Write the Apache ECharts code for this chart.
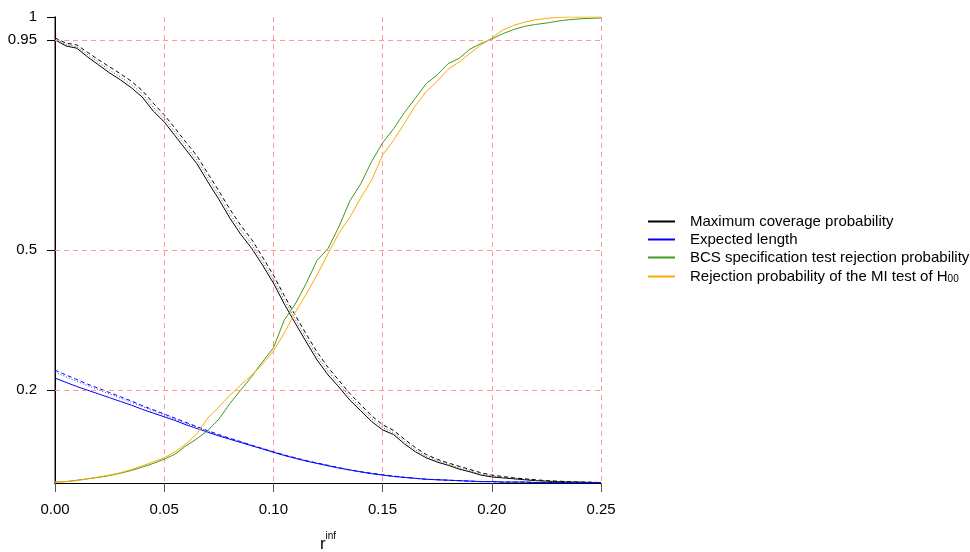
<!DOCTYPE html>
<html>
<head>
<meta charset="utf-8">
<script src="https://cdn.jsdelivr.net/npm/echarts@6/dist/echarts.min.js"></script>
<style>
  html, body { margin: 0; padding: 0; background: #fff; }
  #chart { width: 970px; height: 552px; }
</style>
</head>
<body>
<div id="chart"></div>
<script>
// r^inf grid
var rInf = [0, 0.005, 0.01, 0.015, 0.02, 0.025, 0.03, 0.035, 0.04, 0.045,
  0.05, 0.055, 0.06, 0.065, 0.07, 0.075, 0.08, 0.085, 0.09, 0.095,
  0.1, 0.105, 0.11, 0.115, 0.12, 0.125, 0.13, 0.135, 0.14, 0.145,
  0.15, 0.155, 0.16, 0.165, 0.17, 0.175, 0.18, 0.185, 0.19, 0.195,
  0.2, 0.205, 0.21, 0.215, 0.22, 0.225, 0.23, 0.235, 0.24, 0.245, 0.25];

// maximum coverage probability (three variants)
var coverSolid = [0.951, 0.938, 0.933, 0.914, 0.897, 0.880, 0.865, 0.848, 0.828, 0.798,
  0.775, 0.745, 0.715, 0.685, 0.646, 0.609, 0.569, 0.534, 0.504, 0.468,
  0.429, 0.384, 0.343, 0.303, 0.264, 0.232, 0.206, 0.178, 0.155, 0.132,
  0.114, 0.104, 0.084, 0.067, 0.054, 0.045, 0.038, 0.030, 0.024, 0.017,
  0.013, 0.011, 0.009, 0.007, 0.005, 0.004, 0.003, 0.002, 0.002, 0.001, 0.001];
var coverDotted = [0.953, 0.941, 0.936, 0.919, 0.902, 0.886, 0.871, 0.855, 0.835, 0.806,
  0.782, 0.753, 0.723, 0.693, 0.655, 0.618, 0.578, 0.543, 0.513, 0.476,
  0.437, 0.393, 0.351, 0.311, 0.272, 0.240, 0.213, 0.185, 0.161, 0.138,
  0.119, 0.108, 0.089, 0.071, 0.057, 0.048, 0.040, 0.033, 0.026, 0.019,
  0.015, 0.012, 0.010, 0.008, 0.006, 0.004, 0.003, 0.002, 0.002, 0.001, 0.001];
var coverDashed = [0.955, 0.944, 0.940, 0.924, 0.908, 0.893, 0.878, 0.862, 0.842, 0.815,
  0.790, 0.761, 0.731, 0.702, 0.664, 0.627, 0.588, 0.553, 0.523, 0.485,
  0.446, 0.402, 0.360, 0.320, 0.281, 0.248, 0.220, 0.192, 0.168, 0.144,
  0.125, 0.113, 0.094, 0.076, 0.061, 0.051, 0.043, 0.036, 0.029, 0.022,
  0.017, 0.014, 0.011, 0.009, 0.007, 0.005, 0.004, 0.003, 0.002, 0.002, 0.001];

// expected length (three variants)
var lengthSolid = [0.225, 0.216, 0.207, 0.199, 0.191, 0.183, 0.175, 0.167, 0.158, 0.150,
  0.142, 0.134, 0.125, 0.117, 0.109, 0.101, 0.094, 0.087, 0.080, 0.073,
  0.066, 0.059, 0.053, 0.047, 0.042, 0.037, 0.032, 0.028, 0.024, 0.020,
  0.017, 0.014, 0.012, 0.010, 0.008, 0.007, 0.006, 0.005, 0.004, 0.003,
  0.003, 0.002, 0.002, 0.002, 0.001, 0.001, 0.001, 0.001, 0.001, 0.001, 0.001];
var lengthDotted = [0.238, 0.228, 0.218, 0.209, 0.200, 0.191, 0.182, 0.173, 0.164, 0.155,
  0.146, 0.137, 0.128, 0.120, 0.111, 0.103, 0.095, 0.088, 0.081, 0.074,
  0.067, 0.060, 0.054, 0.048, 0.042, 0.037, 0.032, 0.028, 0.024, 0.020,
  0.017, 0.014, 0.012, 0.010, 0.008, 0.007, 0.006, 0.005, 0.004, 0.003,
  0.003, 0.002, 0.002, 0.002, 0.001, 0.001, 0.001, 0.001, 0.001, 0.001, 0.001];
var lengthDashed = [0.242, 0.232, 0.222, 0.212, 0.203, 0.194, 0.185, 0.176, 0.166, 0.157,
  0.148, 0.139, 0.130, 0.121, 0.112, 0.104, 0.096, 0.089, 0.081, 0.074,
  0.067, 0.060, 0.054, 0.048, 0.043, 0.038, 0.033, 0.028, 0.024, 0.021,
  0.018, 0.015, 0.012, 0.010, 0.008, 0.007, 0.006, 0.005, 0.004, 0.003,
  0.003, 0.002, 0.002, 0.002, 0.001, 0.001, 0.001, 0.001, 0.001, 0.001, 0.001];

// BCS specification test rejection probability
var bcsReject = [0.002, 0.003, 0.006, 0.009, 0.012, 0.016, 0.021, 0.027, 0.034, 0.042,
  0.051, 0.062, 0.080, 0.095, 0.113, 0.137, 0.170, 0.199, 0.228, 0.260,
  0.290, 0.350, 0.384, 0.428, 0.478, 0.503, 0.550, 0.605, 0.642, 0.690,
  0.730, 0.760, 0.795, 0.826, 0.857, 0.876, 0.900, 0.911, 0.931, 0.943,
  0.953, 0.964, 0.973, 0.980, 0.984, 0.987, 0.991, 0.994, 0.996, 0.997, 0.998];

// rejection probability of the MI test of H00
var miReject = [0.002, 0.003, 0.005, 0.009, 0.013, 0.017, 0.022, 0.029, 0.037, 0.045,
  0.054, 0.067, 0.084, 0.106, 0.140, 0.163, 0.188, 0.210, 0.231, 0.255,
  0.283, 0.322, 0.366, 0.405, 0.447, 0.492, 0.536, 0.570, 0.612, 0.650,
  0.704, 0.735, 0.772, 0.810, 0.840, 0.862, 0.888, 0.903, 0.922, 0.940,
  0.955, 0.972, 0.982, 0.989, 0.994, 0.997, 0.999, 1.000, 1.000, 1.000, 1.000];

var yTicks = [0.2, 0.5, 0.95, 1];
var yGrid = [0.2, 0.5, 0.95];

var legendNames = [
  "Maximum coverage probability",
  "Expected length",
  "BCS specification test rejection probability",
  "Rejection probability of the MI test of H00"
];

var gridRed = "#ff9a9a";

function pairs(ys) {
  return rInf.map(function (x, i) { return [x, ys[i]]; });
}

function lineSeries(name, ys, color, type) {
  return {
    name: name,
    type: "line",
    data: pairs(ys),
    showSymbol: false,
    symbol: "none",
    animation: false,
    lineStyle: { color: color, width: 1, type: type || "solid" },
    itemStyle: { color: color },
    z: 3
  };
}

var chart = echarts.init(document.getElementById("chart"));

var series = [
  // horizontal grid lines at the y ticks
  {
    name: "hgrid",
    type: "line",
    data: [],
    silent: true,
    itemStyle: { color: gridRed },
    lineStyle: { color: gridRed },
    z: 1,
    markLine: {
      silent: true,
      symbol: "none",
      animation: false,
      label: { show: false },
      lineStyle: { color: gridRed, type: [5, 4], width: 1, opacity: 1 },
      emphasis: { disabled: true },
      data: yGrid.map(function (v) {
        return { yAxis: v, lineStyle: { color: gridRed, type: [5, 4], width: 1 } };
      })
    }
  },
  lineSeries(legendNames[0], coverSolid, "#000000"),
  lineSeries("cover dotted", coverDotted, "#555555", [1, 2]),
  lineSeries("cover dashed", coverDashed, "#000000", [4, 3]),
  lineSeries(legendNames[1], lengthSolid, "#0000ff"),
  lineSeries("length dotted", lengthDotted, "#3333ff", [1, 2]),
  lineSeries("length dashed", lengthDashed, "#0000ff", [4, 3]),
  lineSeries(legendNames[2], bcsReject, "#3f9a1e"),
  lineSeries(legendNames[3], miReject, "#ffaa00")
];

chart.setOption({
  animation: false,
  backgroundColor: "#ffffff",
  textStyle: { fontFamily: "Liberation Sans, Arial, sans-serif" },
  grid: { left: 55, right: 369, top: 17, bottom: 69, outerBoundsMode: "none", containLabel: false },
  legend: {
    orient: "vertical",
    left: 643,
    top: 209,
    itemWidth: 27,
    itemHeight: 2,
    itemGap: 3,
    icon: "rect",
    data: legendNames,
    textStyle: {
      fontSize: 15,
      color: "#000",
      lineHeight: 15,
      padding: [0, 0, 0, 10],
      rich: {
        sub: { fontSize: 10, lineHeight: 15, verticalAlign: "bottom", padding: [6, 0, 0, 0] }
      }
    },
    formatter: function (name) {
      if (name === legendNames[3]) return "Rejection probability of the MI test of H{sub|00}";
      return name;
    },
    selectedMode: false
  },
  xAxis: [
    {
      type: "value",
      min: 0,
      max: 0.25,
      interval: 0.05,
      name: "{b|r}{s|inf}",
      nameLocation: "middle",
      nameGap: 48,
      nameTextStyle: {
        rich: {
          b: { fontSize: 17, color: "#000", verticalAlign: "bottom", lineHeight: 22 },
          s: { fontSize: 10, color: "#000", verticalAlign: "top", lineHeight: 22 }
        }
      },
      axisLine: { show: true, lineStyle: { color: "#000", width: 1 } },
      axisTick: { show: true, length: 9, lineStyle: { color: "#555" } },
      axisLabel: {
        margin: 19,
        fontSize: 15,
        color: "#000",
        formatter: function (v) { return v.toFixed(2); }
      },
      splitLine: { show: true, lineStyle: { color: gridRed, type: [5, 4], width: 1 } }
    },
    {
      type: "value",
      position: "top",
      min: 0,
      max: 0.25,
      axisLine: { show: true, lineStyle: { color: "#000", width: 1 } },
      axisTick: { show: false },
      axisLabel: { show: false },
      splitLine: { show: false }
    }
  ],
  yAxis: [
    {
      type: "value",
      min: 0,
      max: 1,
      axisLine: { show: true, lineStyle: { color: "#6e5f5f", width: 1.5 } },
      axisTick: { show: true, length: 8, customValues: yTicks, lineStyle: { color: "#000" } },
      axisLabel: {
        show: true,
        customValues: yTicks,
        margin: 18,
        fontSize: 15,
        color: "#000",
        formatter: function (v) { return String(v); }
      },
      splitLine: { show: false }
    },
    {
      type: "value",
      position: "right",
      min: 0,
      max: 1,
      axisLine: { show: true, lineStyle: { color: "#000", width: 1 } },
      axisTick: { show: false },
      axisLabel: { show: false },
      splitLine: { show: false }
    }
  ],
  series: series
});
</script>
</body>
</html>
